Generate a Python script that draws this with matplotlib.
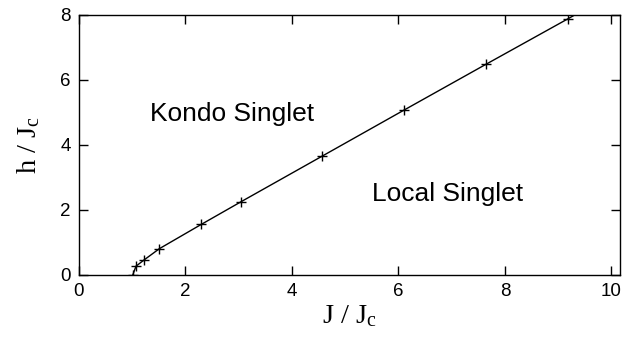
import matplotlib
matplotlib.use('Agg')
import matplotlib.pyplot as plt

# phase boundary h_c(J)
j_pts = [1.01, 1.07, 1.22, 1.51, 2.30, 3.05, 4.57, 6.10, 7.64, 9.18]
h_pts = [0.0, 0.27, 0.46, 0.81, 1.56, 2.26, 3.66, 5.07, 6.48, 7.88]
# the drawn curve runs on past the last point to the top edge
j_line = j_pts + [9.45]
h_line = h_pts + [8.13]

x_ticks = [0, 2, 4, 6, 8, 10]
y_ticks = [0, 2, 4, 6, 8]

plt.rcParams['font.family'] = ['Liberation Sans', 'DejaVu Sans']
plt.rcParams['mathtext.fontset'] = 'custom'
plt.rcParams['mathtext.rm'] = 'Liberation Serif'
plt.rcParams['mathtext.it'] = 'Liberation Serif:italic'

fig = plt.figure(figsize=(6.36, 3.39), dpi=100)
ax = fig.add_axes([0.1242, 0.1888, 0.8506, 0.767])

ax.plot(j_line, h_line, color='black', lw=1.0)
ax.plot(j_pts, h_pts, ls='none', marker='+', color='black', ms=7, mew=1.0)

ax.set_xlim(0, 10.16)
ax.set_ylim(0, 8)
ax.set_xticks(x_ticks)
ax.set_yticks(y_ticks)
ax.tick_params(direction='in', top=True, right=True, length=6.5, width=1,
               labelsize=13.5, pad=6)
for s in ax.spines.values():
    s.set_linewidth(1.0)

serif = {'family': 'Liberation Serif', 'size': 20.5}
ax.set_xlabel(r'J / J$_\mathrm{c}$', fontdict=serif, labelpad=2)
ax.set_ylabel(r'h / J$_\mathrm{c}$', fontdict=serif, labelpad=13)

ax.text(2.87, 4.95, 'Kondo Singlet', fontsize=19, ha='center', va='center')
ax.text(6.93, 2.5, 'Local Singlet', fontsize=19, ha='center', va='center')

fig.savefig('out.png', dpi=100)
